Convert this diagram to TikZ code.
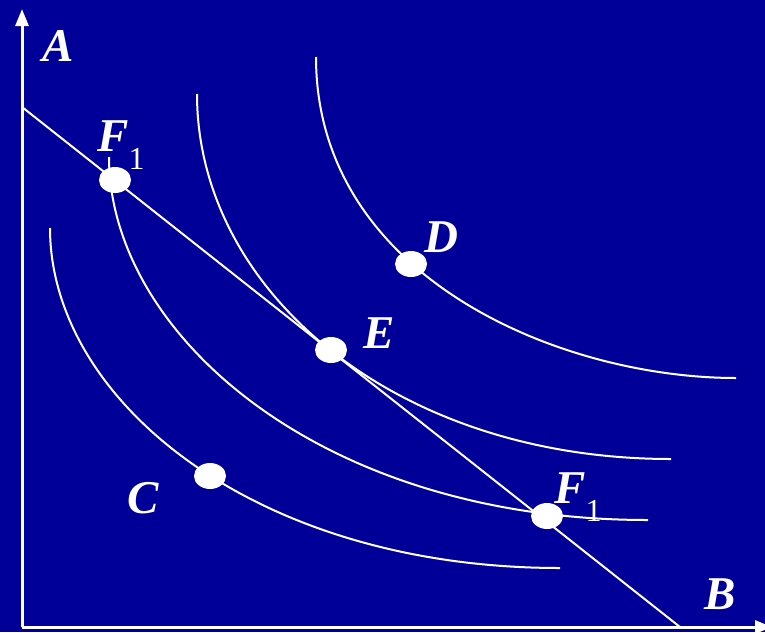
\documentclass[tikz,border=0pt]{standalone}
\usepackage{fontspec}
\setmainfont{Liberation Serif}
\usetikzlibrary{arrows.meta,shapes.geometric}
\definecolor{fond}{RGB}{0,0,153}
\newcommand{\indice}[1]{\raisebox{-9pt}{\fontsize{16}{18}\selectfont\mdseries\upshape #1}}
\begin{document}
\begin{tikzpicture}[x=0.5pt,y=-0.5pt,
      axe/.style={white, line width=1.5pt, -{Triangle[length=8.5pt,width=6.5pt]}},
      courbe/.style={white, line width=1pt},
      point/.style={ellipse, fill=white, minimum width=16pt, minimum height=13pt, inner sep=0pt},
      lettre/.style={text=white, inner sep=0pt, font=\fontsize{23.5}{26}\selectfont\bfseries\itshape}]
      % Fond
      \fill[fond] (0,0) rectangle (765,632);
      \useasboundingbox (0,0) rectangle (765,632);
      % Axes
      \coordinate (O) at (22,627);
      \coordinate (hautA) at (22,9);
      \coordinate (finB) at (772,627);
      \draw[axe] (O) -- (hautA);
      \draw[axe] (O) -- (finB);
      % Droite de budget
      \coordinate (bA) at (22,107);
      \coordinate (bB) at (680,627);
      \draw[courbe] (bA) -- (bB);
      % Courbes d'indifference
      \draw[courbe] (50,228) .. controls (50,399) and (253,568) .. (560,568);
      \draw[courbe] (109,157) .. controls (109,332) and (318,520) .. (648,520);
      \draw[courbe] (197,94) .. controls (197,290) and (394,459) .. (671,459);
      \draw[courbe] (316,57) .. controls (316,277) and (560,378) .. (736,378);
      % Points
      \node[point] (F1h) at (115,180) {};
      \node[point] (E) at (331,350) {};
      \node[point] (D) at (411,264) {};
      \node[point] (C) at (210,476) {};
      \node[point] (F1b) at (547,516) {};
      % Lettres
      \node[lettre] (lA) at (58,46) {A};
      \node[lettre] (lB) at (720,594) {B};
      \node[lettre] (lC) at (143,498) {C};
      \node[lettre] (lD) at (441,237) {D};
      \node[lettre] (lE) at (379,333) {E};
      \node[lettre] (lF1h) at (121,145) {F\indice{1}};
      \node[lettre] (lF1b) at (578,497) {F\indice{1}};
\end{tikzpicture}
\end{document}
